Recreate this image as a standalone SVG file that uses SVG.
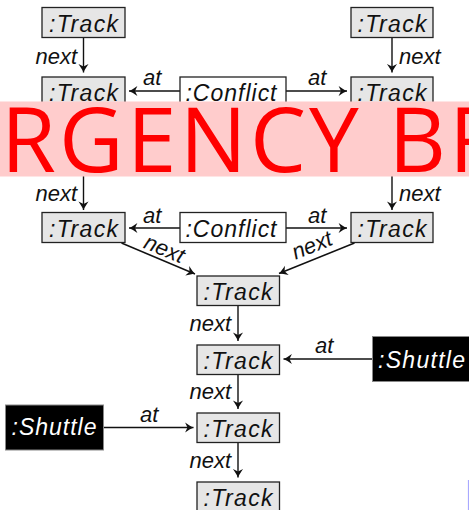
<svg xmlns="http://www.w3.org/2000/svg" width="469" height="510" viewBox="0 0 469 510">
  <style>
    .track rect { fill: #e6e6e6; stroke: #222; stroke-width: 1.3; }
    .conflict rect { fill: #ffffff; stroke: #222; stroke-width: 1.3; }
    .shuttle rect { fill: #000000; stroke: #888; stroke-width: 1; }
    text { font-family: "Liberation Sans", Arial, sans-serif; font-style: italic; font-size: 23px; fill: #111; }
    .name { text-anchor: middle; }
    .shuttle text { fill: #ffffff; }
    .edge line { stroke: #111; stroke-width: 1.4; marker-end: url(#head); }
    .lbl { font-size: 22px; }
    .banner rect { fill: #ffcccc; }
    .banner text { font-family: "Open Sans", "Noto Sans", sans-serif; font-style: normal; font-size: 89px; fill: #ff0000; }
  </style>
  <defs>
    <marker id="head" markerUnits="userSpaceOnUse" markerWidth="12" markerHeight="12" viewBox="-8 -5 10 10" refX="0" refY="0" orient="auto">
      <path d="M0,0 C-2,-0.8 -4.5,-2.5 -7,-4.2 L-5,0 L-7,4.2 C-4.5,2.5 -2,0.8 0,0 Z" fill="#111"/>
    </marker>
  </defs>

  <!-- connectors -->
  <g id="edges" class="edge">
    <line x1="83.5" y1="37.5" x2="83.5" y2="72.5"/>
    <line x1="392" y1="37.5" x2="392" y2="72.5"/>
    <line x1="180" y1="91" x2="129" y2="91"/>
    <line x1="286" y1="91" x2="347" y2="91"/>
    <line x1="83.5" y1="176" x2="83.5" y2="210"/>
    <line x1="392" y1="176" x2="392" y2="210"/>
    <line x1="180" y1="228" x2="129" y2="228"/>
    <line x1="286" y1="228" x2="347" y2="228"/>
    <line x1="121.5" y1="243" x2="195" y2="274"/>
    <line x1="354.5" y1="243" x2="279" y2="273.5"/>
    <line x1="238" y1="305.5" x2="238" y2="341"/>
    <line x1="372.5" y1="359" x2="283.5" y2="359"/>
    <line x1="238" y1="374.5" x2="238" y2="409"/>
    <line x1="103.5" y1="427.5" x2="193.5" y2="427.5"/>
    <line x1="238" y1="442.5" x2="238" y2="477.5"/>
  </g>

  <!-- connector labels -->
  <g id="edge-labels">
    <text class="lbl" x="35.5" y="64">next</text>
    <text class="lbl" x="399" y="64">next</text>
    <text class="lbl" x="143" y="85">at</text>
    <text class="lbl" x="308" y="85">at</text>
    <text class="lbl" x="35.5" y="200.5">next</text>
    <text class="lbl" x="399" y="200.5">next</text>
    <text class="lbl" x="143" y="222.5">at</text>
    <text class="lbl" x="308" y="222.5">at</text>
    <text class="lbl" text-anchor="middle" transform="translate(164,250) rotate(22.7)" x="0" y="6">next</text>
    <text class="lbl" text-anchor="middle" transform="translate(312.5,246.5) rotate(-22)" x="0" y="6">next</text>
    <text class="lbl" x="189.5" y="330.5">next</text>
    <text class="lbl" x="315" y="352.5">at</text>
    <text class="lbl" x="189.5" y="398.5">next</text>
    <text class="lbl" x="140" y="421.5">at</text>
    <text class="lbl" x="189.5" y="468">next</text>
  </g>

  <!-- nodes -->
  <g id="track-a1" class="track"><rect x="42" y="7.5" width="83" height="30"/><text class="name" x="83.5" y="31.5" textLength="69">:Track</text></g>
  <g id="track-b1" class="track"><rect x="351" y="7.5" width="82" height="30"/><text class="name" x="392" y="31.5" textLength="69">:Track</text></g>
  <g id="track-a2" class="track"><rect x="42" y="77" width="83" height="29"/><text class="name" x="83.5" y="100.5" textLength="69">:Track</text></g>
  <g id="conflict-1" class="conflict"><rect x="180" y="77" width="106" height="29"/><text class="name" x="231" y="100.5" textLength="91">:Conflict</text></g>
  <g id="track-b2" class="track"><rect x="351" y="77" width="82" height="29"/><text class="name" x="392" y="100.5" textLength="69">:Track</text></g>

  <g id="track-a3" class="track"><rect x="42" y="212.5" width="83" height="30"/><text class="name" x="83.5" y="236.5" textLength="69">:Track</text></g>
  <g id="conflict-2" class="conflict"><rect x="180" y="212.5" width="106" height="30"/><text class="name" x="231" y="236.5" textLength="91">:Conflict</text></g>
  <g id="track-b3" class="track"><rect x="351" y="212.5" width="82" height="30"/><text class="name" x="392" y="236.5" textLength="69">:Track</text></g>

  <g id="track-m1" class="track"><rect x="197" y="276" width="82.5" height="29.5"/><text class="name" x="238" y="299.5" textLength="69">:Track</text></g>
  <g id="track-m2" class="track"><rect x="197" y="345" width="82.5" height="29.5"/><text class="name" x="238" y="368.5" textLength="69">:Track</text></g>
  <g id="shuttle-1" class="shuttle"><rect x="372.5" y="336.5" width="100" height="45"/><text x="378" y="367.5" textLength="87">:Shuttle</text></g>
  <g id="track-m3" class="track"><rect x="197" y="413" width="82.5" height="29.5"/><text class="name" x="238" y="436.5" textLength="69">:Track</text></g>
  <g id="shuttle-2" class="shuttle"><rect x="5.5" y="405" width="98" height="45"/><text x="11.5" y="434.5" textLength="85">:Shuttle</text></g>
  <g id="track-m4" class="track"><rect x="197" y="482" width="82.5" height="30"/><text class="name" x="238" y="505.5" textLength="69">:Track</text></g>

  <!-- banner overlay -->
  <g id="banner" class="banner">
    <rect x="0" y="101.5" width="469" height="75"/>
    <text x="1" y="171.5" textLength="503">RGENCY BR</text>
  </g>

  <!-- thin blue edge at lower right -->
  <line x1="468.5" y1="480" x2="468.5" y2="510" stroke="#a8a8ff" stroke-width="1.2"/>
</svg>
